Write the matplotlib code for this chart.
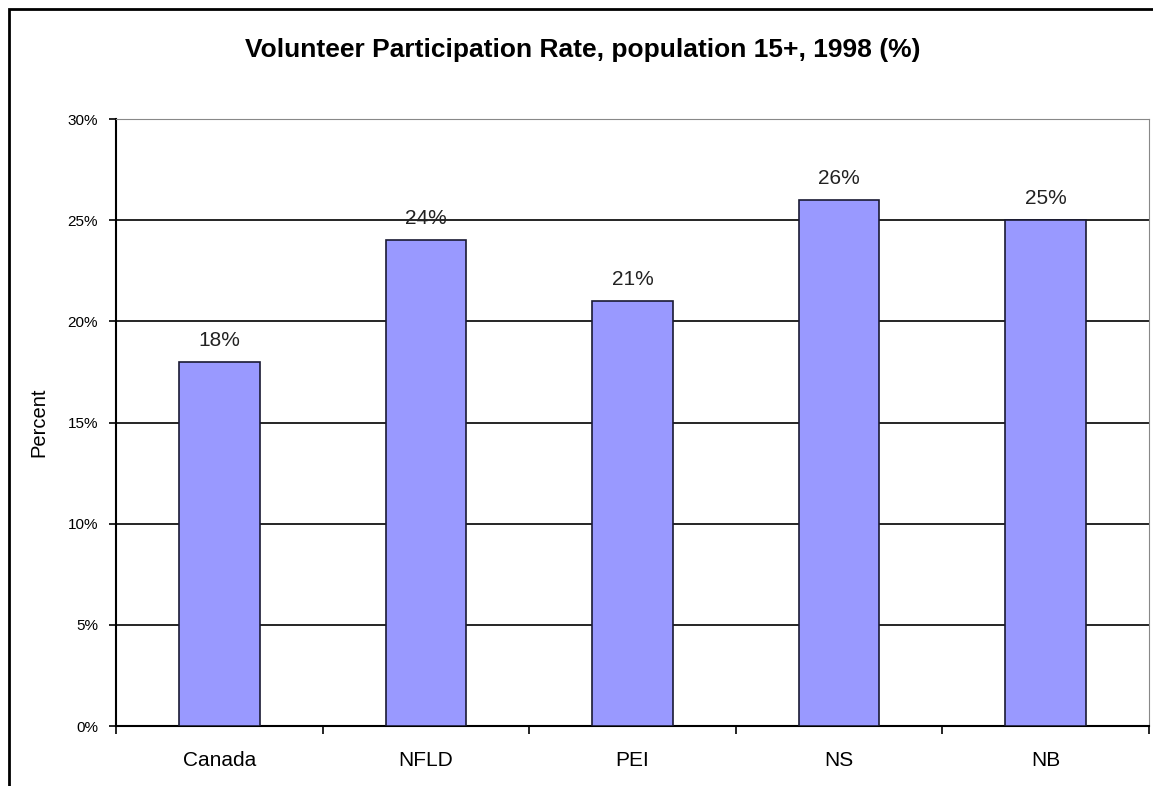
import matplotlib
matplotlib.use('Agg')
import matplotlib.pyplot as plt
from matplotlib.patches import Rectangle
import numpy as np

plt.rcParams['font.family'] = ['Liberation Sans', 'DejaVu Sans']

# data
regions = ['Canada', 'NFLD', 'PEI', 'NS', 'NB']
rates = [18, 24, 21, 26, 25]
y_ticks = [0, 5, 10, 15, 20, 25, 30]

fig = plt.figure(figsize=(11.53, 7.86), dpi=100)
ax = fig.add_axes([0.1006, 0.0763, 0.8959, 0.7723])

x = np.arange(len(regions))
ax.bar(x, rates, width=0.39, color='#9999ff', edgecolor='#1a1a33', linewidth=1.2, zorder=3)

# data labels
for xi, v in zip(x, rates):
    ax.text(xi, v + 0.6, '%d%%' % v, ha='center', va='bottom', fontsize=15, color='#222222')

ax.set_xlim(-0.5, len(regions) - 0.5)
ax.set_ylim(0, 30)

# horizontal gridlines
ax.set_yticks(y_ticks)
ax.set_yticklabels(['%d%%' % t for t in y_ticks], fontsize=11)
for t in y_ticks[1:-1]:
    ax.axhline(t, color='black', linewidth=1.2, zorder=1)

# category ticks between bars, labels centred
ax.set_xticks(np.arange(-0.5, len(regions), 1.0))
ax.set_xticklabels([])
ax.set_xticks(x, minor=True)
ax.set_xticklabels(regions, minor=True, fontsize=15)
ax.tick_params(axis='x', which='minor', length=0, pad=18)
ax.tick_params(axis='x', which='major', length=6, width=1.2, direction='out')
ax.tick_params(axis='y', length=5, width=1.2, direction='out', pad=8)

ax.spines['left'].set_linewidth(1.5)
ax.spines['bottom'].set_linewidth(1.5)
ax.spines['top'].set_color('#888888')
ax.spines['right'].set_color('#888888')

ax.set_ylabel('Percent', fontsize=14.5, labelpad=14)
fig.text(0.505, 0.937, 'Volunteer Participation Rate, population 15+, 1998 (%)',
         ha='center', va='center', fontsize=19, fontweight='bold')

# outer chart border (bottom/right cut off in the original)
fig.patches.append(Rectangle((0.0075, -0.05), 1.2, 1.0385, transform=fig.transFigure,
                             fill=False, edgecolor='black', linewidth=2))

fig.savefig('out.png', dpi=100)
